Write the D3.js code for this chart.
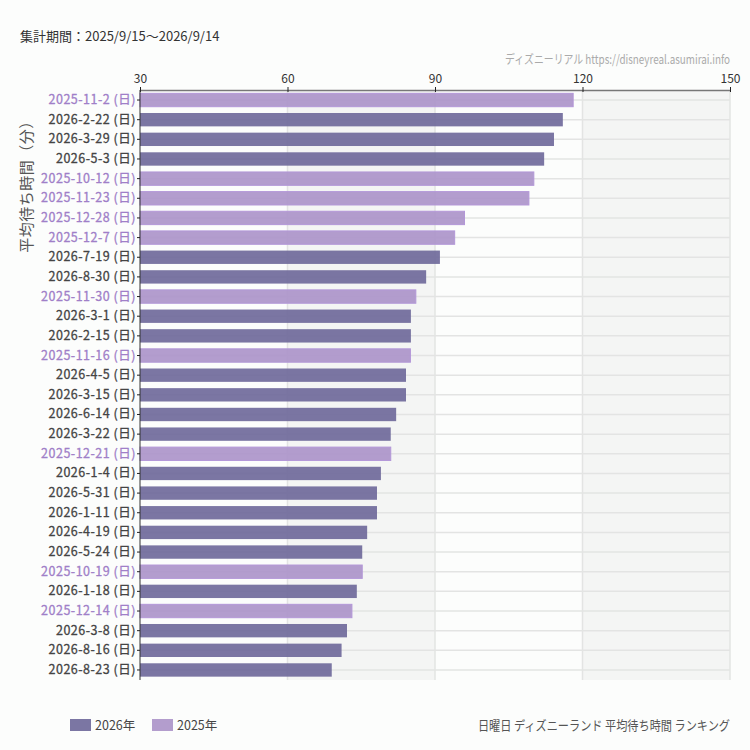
<!DOCTYPE html>
<html><head><meta charset="utf-8">
<script src="https://cdn.jsdelivr.net/npm/d3@7"></script>
<style>
html,body{margin:0;padding:0;background:#fcfdfc;}
svg{display:block;font-family:"Noto Sans CJK JP","Noto Sans",sans-serif;}
</style></head>
<body><svg id="c" width="750" height="750"></svg>
<script>
const categories = ["2025-11-2 (日)","2026-2-22 (日)","2026-3-29 (日)","2026-5-3 (日)","2025-10-12 (日)","2025-11-23 (日)","2025-12-28 (日)","2025-12-7 (日)","2026-7-19 (日)","2026-8-30 (日)","2025-11-30 (日)","2026-3-1 (日)","2026-2-15 (日)","2025-11-16 (日)","2026-4-5 (日)","2026-3-15 (日)","2026-6-14 (日)","2026-3-22 (日)","2025-12-21 (日)","2026-1-4 (日)","2026-5-31 (日)","2026-1-11 (日)","2026-4-19 (日)","2026-5-24 (日)","2025-10-19 (日)","2026-1-18 (日)","2025-12-14 (日)","2026-3-8 (日)","2026-8-16 (日)","2026-8-23 (日)"];
const values = [118.1,116.0,114.2,112.2,110.1,109.1,96.0,94.0,91.0,88.2,86.1,85.1,85.1,85.0,84.1,84.1,82.1,81.0,81.0,79.0,78.2,78.2,76.2,75.2,75.2,74.1,73.1,72.1,71.0,69.0];
const years = categories.map(c => c.slice(0,4));
const xTicks = [30,60,90,120,150];
const legendItems = ["2026年","2025年"];
const periodText = "集計期間：2025/9/15〜2026/9/14";
const watermark = "ディズニーリアル https://disneyreal.asumirai.info";
const footer = "日曜日 ディズニーランド 平均待ち時間 ランキング";
const yTitle = "平均待ち時間（分）";

const colors = {"2026":"#6d6799","2025":"#ab92c9"};
const legendColors = {"2026":"#7b76a3","2025":"#b39dcd"};
const strokes = {"2025":"#b397d8"};
const labelColors = {"2026":"#444","2025":"#a07fc8"};

const svg = d3.select("#c");
const L=140, R=730, T=90, B=680;
const x = d3.scaleLinear().domain([30,150]).range([L,R]);
const y = d3.scaleBand().domain(categories).range([T,B]).paddingInner(0.32).paddingOuter(0.17);

// bands
const bandPairs = d3.pairs(xTicks);
svg.append("g").selectAll("rect").data(bandPairs).join("rect")
  .attr("x",d=>x(d[0])).attr("width",d=>x(d[1])-x(d[0]))
  .attr("y",T).attr("height",B-T)
  .attr("fill",(d,i)=> i%2 ? "#f4f5f4" : "#fcfdfc");

// horizontal grid at category centers
svg.append("g").selectAll("line").data(categories).join("line")
  .attr("x1",L).attr("x2",R)
  .attr("y1",d=>y(d)+y.bandwidth()/2).attr("y2",d=>y(d)+y.bandwidth()/2)
  .attr("stroke","#e3e4e3").attr("stroke-width",1.5);
// vertical grid
svg.append("g").selectAll("line").data(xTicks.slice(1)).join("line")
  .attr("x1",d=>x(d)).attr("x2",d=>x(d)).attr("y1",T).attr("y2",B)
  .attr("stroke","#e3e4e3").attr("stroke-width",1.5);

// bars
svg.append("g").selectAll("rect").data(categories).join("rect")
  .attr("x",x(30)).attr("y",d=>y(d))
  .attr("width",(d,i)=>x(values[i])-x(30))
  .attr("height",y.bandwidth())
  .attr("fill",(d,i)=>colors[years[i]])
  .attr("fill-opacity",0.9)
  .attr("stroke",(d,i)=>years[i]==="2025"?strokes["2025"]:"none")
  .attr("stroke-width",1);

// top axis
const xa = svg.append("g").attr("transform",`translate(0,${T})`)
  .call(d3.axisTop(x).tickValues(xTicks).tickSize(3).tickSizeOuter(0));
xa.select(".domain").attr("stroke","#777").attr("stroke-width",1.5);
xa.selectAll(".tick line").attr("stroke","#222").attr("y2",-3).attr("y1",2);
xa.selectAll(".tick text").attr("font-size",12).attr("fill","#333").attr("font-family","'Noto Sans CJK JP'").attr("dy","-0.05em");

// left axis
const ya = svg.append("g").attr("transform",`translate(${L},0)`)
  .call(d3.axisLeft(y).tickSize(3).tickSizeOuter(0));
ya.select(".domain").attr("stroke","#333").attr("d",`M0,${T}V${B}`);
ya.selectAll(".tick line").attr("stroke","#222");
ya.selectAll(".tick text")
  .attr("font-size",12.5).attr("font-weight",400).attr("letter-spacing","0.5px")
  .attr("font-family","'Noto Sans CJK JP'")
  .attr("x",-4)
  .attr("fill",d=>labelColors[d.slice(0,4)])
  .attr("stroke",d=>labelColors[d.slice(0,4)]).attr("stroke-width",0.3);

// y title
svg.append("text").attr("transform","translate(32,183) rotate(-90)")
  .attr("text-anchor","middle").attr("font-size",15).attr("letter-spacing","0.5px").attr("fill","#555").text(yTitle);

// header
svg.append("text").attr("x",20).attr("y",41).attr("font-size",13).attr("fill","#333").text(periodText);
svg.append("g").attr("transform","translate(730,64) scale(0.79,1)")
  .append("text").attr("text-anchor","end")
  .attr("font-family","'Liberation Sans Narrow','Noto Sans CJK JP',sans-serif")
  .attr("font-size",12.5).attr("fill","#aaa").text(watermark);

// footer
svg.append("g").attr("transform","translate(730,730) scale(0.86,1)")
  .append("text").attr("text-anchor","end")
  .attr("font-size",13).attr("fill","#555").text(footer);

// legend
const lg = svg.append("g").selectAll("g").data(legendItems).join("g")
  .attr("transform",(d,i)=>`translate(${70+i*82},719)`);
lg.append("rect").attr("width",21).attr("height",12).attr("fill",d=>legendColors[d.slice(0,4)]);
lg.append("text").attr("x",25).attr("y",11).attr("font-size",12.5).attr("fill","#444").text(d=>d);
</script></body></html>
